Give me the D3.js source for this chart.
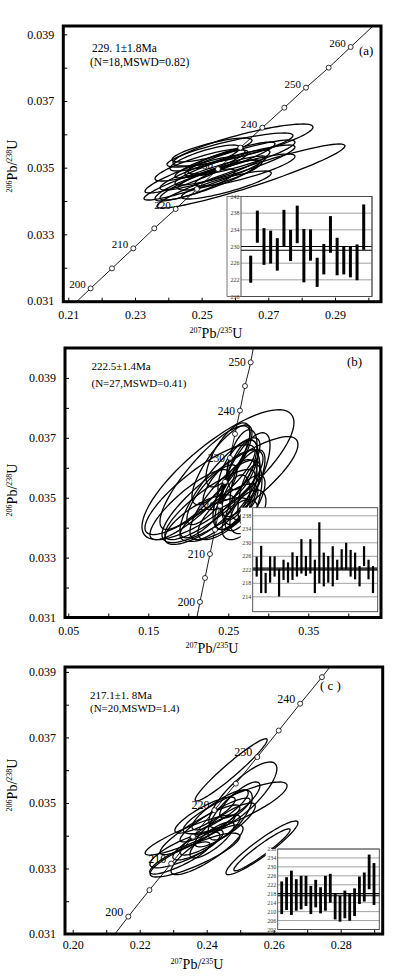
<!DOCTYPE html>
<html>
<head>
<meta charset="utf-8">
<script src="https://cdn.jsdelivr.net/npm/d3@7"></script>
<style>
  body { margin: 0; background: #fff; }
  svg { display: block; }
  svg text { font-family: "Liberation Serif", "Times New Roman", serif; }
</style>
</head>
<body>
<svg id="chart" width="396" height="978"></svg>
<script>
// ---------- panel (a) ----------
let concAgesA = [200, 205, 210, 215, 220, 225, 230, 235, 240, 245, 250, 255, 260];
let concXA = [0.2167, 0.2231, 0.2295, 0.2358, 0.2422, 0.2486, 0.2549, 0.2616, 0.2682, 0.2748, 0.2813, 0.2881, 0.2947];
let concYA = [0.03138, 0.03198, 0.03258, 0.03318, 0.03376, 0.03436, 0.03496, 0.03560, 0.03620, 0.03680, 0.03740, 0.03800, 0.03862];
let lineEndsA = [[0.2125, 0.03098], [0.3014, 0.03925]];
let labelAgesA = [200, 210, 220, 230, 240, 250, 260];

let ellCxA = [0.2648, 0.2624, 0.2510, 0.2585, 0.2540, 0.2495, 0.2570, 0.2525, 0.2600, 0.2480, 0.2555, 0.2615, 0.2510, 0.2549, 0.2630, 0.2465, 0.2574, 0.2531];
let ellCyA = [0.03475, 0.03568, 0.03469, 0.03553, 0.03493, 0.03508, 0.03523, 0.03463, 0.03508, 0.03448, 0.03478, 0.03529, 0.03529, 0.03517, 0.03493, 0.03478, 0.03448, 0.03553];
let ellSxA = [0.0282, 0.0210, 0.0183, 0.0189, 0.0165, 0.0135, 0.0150, 0.0150, 0.0180, 0.0120, 0.0126, 0.0165, 0.0105, 0.0090, 0.0150, 0.0135, 0.0135, 0.0120];
let ellSyA = [0.00096, 0.00063, 0.00066, 0.00051, 0.00060, 0.00048, 0.00054, 0.00060, 0.00060, 0.00048, 0.00045, 0.00054, 0.00039, 0.00036, 0.00048, 0.00054, 0.00042, 0.00036];
let ellRhoA = [0.94, 0.85, 0.93, 0.85, 0.9, 0.85, 0.9, 0.9, 0.9, 0.85, 0.85, 0.88, 0.8, 0.8, 0.85, 0.9, 0.85, 0.8];

let ageHiA = [227.8, 238.6, 234.4, 233.8, 232.0, 238.8, 234.0, 239.8, 234.2, 234.1, 227.3, 230.6, 237.3, 232.1, 230.0, 230.1, 230.5, 240.1];
let ageLoA = [221.3, 230.9, 225.6, 225.9, 224.2, 230.0, 226.5, 230.8, 221.4, 226.6, 220.3, 223.3, 228.5, 223.1, 223.3, 222.6, 221.9, 229.2];
let meanLinesA = [229.1, 230];
let insetTicksA = [218, 222, 226, 230, 234, 238, 242];

let xTicksA = [0.21, 0.22, 0.23, 0.24, 0.25, 0.26, 0.27, 0.28, 0.29, 0.30];
let xLabelsA = [0.21, 0.23, 0.25, 0.27, 0.29];
let yTicksA = [0.031, 0.032, 0.033, 0.034, 0.035, 0.036, 0.037, 0.038, 0.039];
let textA = ["229. 1±1.8Ma", "(N=18,MSWD=0.82)", "(a)"];

// ---------- panel (b) ----------
let concAgesB = [200, 205, 210, 215, 220, 225, 230, 235, 240, 245, 250];
let concXB = [0.2146, 0.2209, 0.2271, 0.2334, 0.2396, 0.2459, 0.2521, 0.2584, 0.2646, 0.2709, 0.2780];
let concYB = [0.03152, 0.03232, 0.03312, 0.03393, 0.03473, 0.03553, 0.03633, 0.03713, 0.03791, 0.03873, 0.03952];
let lineEndsB = [[0.2108, 0.0310], [0.2813, 0.0400]];
let labelAgesB = [200, 210, 220, 230, 240, 250];

let ellCxB = [0.2371, 0.2521, 0.2146, 0.2709, 0.2646, 0.2646, 0.2459, 0.2271, 0.2584, 0.2709, 0.2396, 0.2621, 0.2021, 0.2771, 0.2496, 0.2209, 0.2671, 0.2334, 0.2596, 0.2746, 0.2421, 0.2146, 0.2559, 0.2709, 0.2296, 0.2646, 0.2496];
let ellCyB = [0.03577, 0.03527, 0.03527, 0.03483, 0.03527, 0.03560, 0.03493, 0.03477, 0.03510, 0.03543, 0.03533, 0.03593, 0.03477, 0.03510, 0.03453, 0.03567, 0.03627, 0.03427, 0.03493, 0.03453, 0.03610, 0.03427, 0.03560, 0.03577, 0.03510, 0.03427, 0.03643];
let ellSxB = [0.095, 0.085, 0.0688, 0.025, 0.0313, 0.0225, 0.0438, 0.0563, 0.0275, 0.0188, 0.05, 0.025, 0.05, 0.015, 0.0375, 0.0563, 0.0188, 0.0438, 0.0175, 0.0225, 0.0375, 0.0438, 0.0375, 0.0313, 0.0313, 0.0225, 0.0275];
let ellSyB = [0.00217, 0.00177, 0.0015, 0.00093, 0.00133, 0.00133, 0.00133, 0.00117, 0.00117, 0.00117, 0.00167, 0.001, 0.00117, 0.001, 0.00093, 0.00173, 0.001, 0.00073, 0.00083, 0.00073, 0.00133, 0.00083, 0.001, 0.0014, 0.001, 0.00067, 0.00107];
let ellRhoB = [0.8, 0.85, 0.85, 0.7, 0.75, 0.6, 0.8, 0.85, 0.6, 0.5, 0.85, 0.6, 0.85, 0.5, 0.75, 0.85, 0.5, 0.7, 0.4, 0.5, 0.8, 0.75, 0.7, 0.7, 0.8, 0.5, 0.7];

let ageHiB = [225.9, 229.1, 221.1, 226.0, 226.0, 222.3, 225.0, 224.2, 227.2, 226.1, 231.1, 226.1, 231.1, 225.0, 236.1, 227.1, 226.1, 229.0, 225.0, 228.1, 230.0, 227.9, 227.1, 223.1, 229.0, 225.0, 223.1];
let ageLoB = [220.0, 215.1, 215.1, 218.2, 220.0, 214.1, 219.0, 218.2, 219.0, 220.0, 220.9, 220.2, 220.9, 215.1, 218.0, 217.1, 218.2, 217.1, 219.0, 222.1, 222.1, 220.0, 219.2, 217.1, 223.1, 219.2, 215.1];
let meanLinesB = [222.5, 222];
let insetTicksB = [214, 218, 222, 226, 230, 234, 238];

let xTicksB = [0.05, 0.10, 0.15, 0.20, 0.25, 0.30, 0.35, 0.40];
let xLabelsB = [0.05, 0.15, 0.25, 0.35];
let yTicksB = [0.031, 0.032, 0.033, 0.034, 0.035, 0.036, 0.037, 0.038, 0.039, 0.040];
let textB = ["222.5±1.4Ma", "(N=27,MSWD=0.41)", "(b)"];

// ---------- panel (c) ----------
let concAgesC = [200, 205, 210, 215, 220, 225, 230, 235, 240, 245];
let concXC = [0.2166, 0.2229, 0.2294, 0.2359, 0.2423, 0.2487, 0.2551, 0.2615, 0.2679, 0.2744];
let concYC = [0.03153, 0.03234, 0.03315, 0.03397, 0.03478, 0.03559, 0.03640, 0.03721, 0.03803, 0.03884];
let lineEndsC = [[0.2126, 0.0310], [0.2768, 0.03915]];
let labelAgesC = [200, 210, 220, 230, 240];

let ellCxC = [0.2473, 0.2508, 0.2485, 0.2565, 0.2565, 0.2401, 0.2365, 0.2380, 0.2425, 0.2350, 0.2410, 0.2455, 0.2335, 0.2440, 0.2395, 0.2470, 0.2374, 0.2416, 0.2499, 0.2320];
let ellCyC = [0.03601, 0.03524, 0.03485, 0.03363, 0.03357, 0.03357, 0.03341, 0.03418, 0.03448, 0.03402, 0.03402, 0.03433, 0.03357, 0.03479, 0.03463, 0.03463, 0.03372, 0.03387, 0.03509, 0.03332];
let ellSxC = [0.01075, 0.01015, 0.0155, 0.01075, 0.0084, 0.01075, 0.0134, 0.0119, 0.01045, 0.0134, 0.009, 0.009, 0.01045, 0.0084, 0.009, 0.0066, 0.0075, 0.0066, 0.006, 0.009];
let ellSyC = [0.00095, 0.00101, 0.00079, 0.00082, 0.00064, 0.00076, 0.00067, 0.00076, 0.00067, 0.00061, 0.00061, 0.00067, 0.00055, 0.00061, 0.00055, 0.00076, 0.00046, 0.00055, 0.00055, 0.00049];
let ellRhoC = [0.96, 0.8, 0.85, 0.93, 0.95, 0.85, 0.85, 0.9, 0.9, 0.9, 0.85, 0.85, 0.8, 0.85, 0.85, 0.7, 0.8, 0.8, 0.8, 0.85];

let ageHiC = [223.5, 225.4, 228.3, 224.5, 226.0, 226.0, 221.5, 224.2, 220.9, 226.0, 226.9, 218.2, 217.0, 219.4, 217.9, 220.4, 225.7, 227.5, 235.5, 231.7];
let ageLoC = [208.9, 210.7, 208.5, 210.4, 211.0, 212.5, 208.9, 211.9, 209.2, 210.4, 214.0, 206.5, 205.5, 207.0, 205.9, 208.0, 213.4, 214.5, 220.0, 213.0];
let meanLinesC = [217.1, 218];
let insetTicksC = [202, 206, 210, 214, 218, 222, 226, 230, 234, 238];

let xTicksC = [0.20, 0.21, 0.22, 0.23, 0.24, 0.25, 0.26, 0.27, 0.28, 0.29];
let xLabelsC = [0.20, 0.22, 0.24, 0.26, 0.28];
let yTicksC = [0.031, 0.032, 0.033, 0.034, 0.035, 0.036, 0.037, 0.038, 0.039];
let textC = ["217.1±1. 8Ma", "(N=20,MSWD=1.4)", "( c )"];

let yLabels = [0.031, 0.033, 0.035, 0.037, 0.039];

// layout of each panel (pixels), built from the arrays above
let panels = [
  {
    frame: [63.3, 26, 381, 301.7], xDomain: [0.2085, 0.3038], yDomain: [0.03098, 0.03925],
    ages: concAgesA, cx: concXA, cy: concYA, ends: lineEndsA, labelAges: labelAgesA, labDx: -3, labDy: -4, labSize: 11,
    ell: [ellCxA, ellCyA, ellSxA, ellSyA, ellRhoA],
    hi: ageHiA, lo: ageLoA, mean: meanLinesA, insetTicks: insetTicksA,
    inset: { box: [241, 196.5, 372, 296.5], outer: 227, yDomain: [218, 242], bars: [250.7, 363.7], barW: 3 },
    xTicks: xTicksA, xLabels: xLabelsA, yTicks: yTicksA, xPad: 9,
    text: textA, textPos: [[92, 51.5], [90, 65.5], [359, 55]], textSize: 11.5,
    yTitle: [17, 166], xTitle: [216, 338]
  },
  {
    frame: [65, 348, 381, 617.5], xDomain: [0.0459, 0.4409], yDomain: [0.031, 0.040],
    ages: concAgesB, cx: concXB, cy: concYB, ends: lineEndsB, labelAges: labelAgesB, labDx: -3, labDy: 0, labSize: 11.5,
    ell: [ellCxB, ellCyB, ellSxB, ellSyB, ellRhoB],
    hi: ageHiB, lo: ageLoB, mean: meanLinesB, insetTicks: insetTicksB,
    inset: { box: [252.7, 507.7, 377.7, 611.7], outer: null, yDomain: [209.6, 240.4], bars: [256.7, 373], barW: 2.2 },
    xTicks: xTicksB, xLabels: xLabelsB, yTicks: yTicksB, xPad: 9,
    text: textB, textPos: [[91.5, 370], [91.5, 386.5], [347, 365.5]], textSize: 11,
    yTitle: [17, 490], xTitle: [212, 653]
  },
  {
    frame: [65, 667, 382.7, 934], xDomain: [0.1977, 0.29254], yDomain: [0.031, 0.03915],
    ages: concAgesC, cx: concXC, cy: concYC, ends: lineEndsC, labelAges: labelAgesC, labDx: -3, labDy: -5, labSize: 12,
    ell: [ellCxC, ellCyC, ellSxC, ellSyC, ellRhoC],
    hi: ageHiC, lo: ageLoC, mean: meanLinesC, insetTicks: insetTicksC,
    inset: { box: [277.7, 849, 379.3, 929.5], outer: null, yDomain: [202, 238], bars: [281.7, 374], barW: 2.8 },
    xTicks: xTicksC, xLabels: xLabelsC, yTicks: yTicksC, xPad: 6,
    text: textC, textPos: [[90, 699], [90, 711.5], [320, 690]], textSize: 11,
    yTitle: [17, 785], xTitle: [197, 969]
  }
];

let svg = d3.select("#chart");

panels.forEach(function(p, pi) {
  let [fx0, fy0, fx1, fy1] = p.frame;
  let x = d3.scaleLinear().domain(p.xDomain).range([fx0, fx1]);
  let y = d3.scaleLinear().domain(p.yDomain).range([fy1, fy0]);
  let g = svg.append("g");

  let clipId = "clip" + pi;
  svg.append("clipPath").attr("id", clipId)
    .append("rect").attr("x", fx0).attr("y", fy0).attr("width", fx1 - fx0).attr("height", fy1 - fy0);

  let inner = g.append("g").attr("clip-path", "url(#" + clipId + ")");

  // concordia line
  let pts = [p.ends[0]].concat(p.ages.map((a, i) => [p.cx[i], p.cy[i]])).concat([p.ends[1]]);
  inner.append("path")
    .attr("d", d3.line().x(d => x(d[0])).y(d => y(d[1])).curve(d3.curveMonotoneX)(pts))
    .attr("fill", "none").attr("stroke", "#000").attr("stroke-width", 0.9);

  // age labels
  p.ages.forEach(function(a, i) {
    if (p.labelAges.indexOf(a) < 0) return;
    inner.append("text")
      .attr("x", x(p.cx[i]) + p.labDx - 2)
      .attr("y", y(p.cy[i]) + p.labDy)
      .attr("dy", "0.35em")
      .attr("text-anchor", "end")
      .attr("font-size", p.labSize)
      .attr("fill", "#000")
      .text(a);
  });

  // ellipses
  let [ecx, ecy, esx, esy, erho] = p.ell;
  let steps = d3.range(0, 73).map(k => k / 72 * 2 * Math.PI);
  ecx.forEach(function(cx, i) {
    let r = erho[i];
    let ring = steps.map(t => [
      x(cx + esx[i] * Math.cos(t)),
      y(ecy[i] + esy[i] * (r * Math.cos(t) + Math.sqrt(1 - r * r) * Math.sin(t)))
    ]);
    inner.append("path")
      .attr("d", d3.line().curve(d3.curveLinearClosed)(ring))
      .attr("fill", "none").attr("stroke", "#000").attr("stroke-width", 1.3);
  });

  // concordia circles
  inner.selectAll(".dot").data(p.ages).join("circle")
    .attr("cx", (a, i) => x(p.cx[i]))
    .attr("cy", (a, i) => y(p.cy[i]))
    .attr("r", 2.5)
    .attr("fill", "#fff").attr("stroke", "#000").attr("stroke-width", 0.8);

  // axes
  let fmtX = d3.format(".2f"), fmtY = d3.format(".3f");
  let xAxis = d3.axisBottom(x).tickValues(p.xTicks)
    .tickSizeInner(-4).tickSizeOuter(0).tickPadding(p.xPad)
    .tickFormat(d => p.xLabels.some(v => Math.abs(v - d) < 1e-9) ? fmtX(d) : "");
  let yAxis = d3.axisLeft(y).tickValues(p.yTicks)
    .tickSizeInner(-4).tickSizeOuter(0).tickPadding(9)
    .tickFormat(d => yLabels.some(v => Math.abs(v - d) < 1e-9) ? fmtY(d) : "");

  let xg = g.append("g").attr("transform", "translate(0," + fy1 + ")").call(xAxis);
  let yg = g.append("g").attr("transform", "translate(" + fx0 + ",0)").call(yAxis);
  [xg, yg].forEach(function(ag) {
    ag.attr("font-family", null);
    ag.select(".domain").remove();
    ag.selectAll("line").attr("stroke", "#000").attr("stroke-width", 1);
    ag.selectAll("text").attr("font-size", 12).attr("fill", "#000");
  });

  // inset weighted mean plot
  let ins = p.inset;
  let [ix0, iy0, ix1, iy1] = ins.box;
  let iy = d3.scaleLinear().domain(ins.yDomain).range([iy1, iy0]);
  let ix = d3.scalePoint().domain(d3.range(p.hi.length)).range(ins.bars);
  let ig = g.append("g");
  let bgLeft = ins.outer !== null ? ins.outer : ix0 - 12;
  ig.append("rect")
    .attr("x", bgLeft).attr("y", iy0)
    .attr("width", ix1 - bgLeft).attr("height", iy1 - iy0)
    .attr("fill", "#fff")
    .attr("stroke", ins.outer !== null ? "#555" : "none").attr("stroke-width", 0.8);
  ig.selectAll(".grid").data(p.insetTicks).join("line")
    .attr("x1", ix0).attr("x2", ix1)
    .attr("y1", d => iy(d)).attr("y2", d => iy(d))
    .attr("stroke", "#8a8a8a").attr("stroke-width", 0.8);
  ig.selectAll(".lab").data(p.insetTicks).join("text")
    .attr("x", ix0 - 1.5).attr("y", d => iy(d)).attr("dy", "0.35em")
    .attr("text-anchor", "end").attr("font-size", 6).attr("fill", "#333")
    .text(d => d);
  ig.selectAll(".mean").data(p.mean).join("line")
    .attr("x1", ix0).attr("x2", ix1)
    .attr("y1", d => iy(d)).attr("y2", d => iy(d))
    .attr("stroke", "#000").attr("stroke-width", 1.2);
  ig.selectAll(".bar").data(p.hi).join("rect")
    .attr("x", (d, i) => ix(i) - ins.barW / 2)
    .attr("y", d => iy(d))
    .attr("width", ins.barW)
    .attr("height", (d, i) => iy(p.lo[i]) - iy(d))
    .attr("fill", "#000");
  ig.append("rect")
    .attr("x", ix0).attr("y", iy0).attr("width", ix1 - ix0).attr("height", iy1 - iy0)
    .attr("fill", "none").attr("stroke", "#444").attr("stroke-width", 0.9);

  // frame
  g.append("rect")
    .attr("x", fx0).attr("y", fy0).attr("width", fx1 - fx0).attr("height", fy1 - fy0)
    .attr("fill", "none").attr("stroke", "#000").attr("stroke-width", 3);

  // annotations
  p.text.forEach(function(t, i) {
    g.append("text")
      .attr("x", p.textPos[i][0]).attr("y", p.textPos[i][1])
      .attr("font-size", i === 2 ? 13 : p.textSize)
      .attr("fill", "#000")
      .text(t);
  });

  // axis titles
  let yt = g.append("text")
    .attr("transform", "translate(" + p.yTitle[0] + "," + p.yTitle[1] + ") rotate(-90)")
    .attr("text-anchor", "middle").attr("font-size", 14);
  yt.append("tspan").attr("font-size", 8).attr("dy", -5).text("206");
  yt.append("tspan").attr("dy", 5).text("Pb/");
  yt.append("tspan").attr("font-size", 8).attr("dy", -5).text("238");
  yt.append("tspan").attr("dy", 5).text("U");

  let xt = g.append("text")
    .attr("x", p.xTitle[0]).attr("y", p.xTitle[1])
    .attr("text-anchor", "middle").attr("font-size", 14);
  xt.append("tspan").attr("font-size", 8).attr("dy", -5).text("207");
  xt.append("tspan").attr("dy", 5).text("Pb/");
  xt.append("tspan").attr("font-size", 8).attr("dy", -5).text("235");
  xt.append("tspan").attr("dy", 5).text("U");
});
</script>
</body>
</html>
